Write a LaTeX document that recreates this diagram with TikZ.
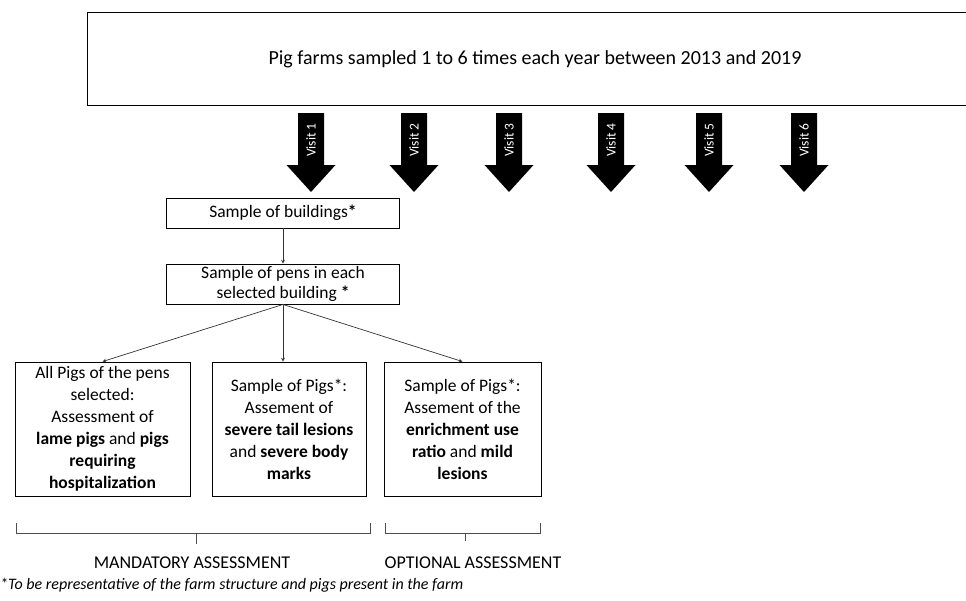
\documentclass[tikz,border=0pt]{standalone}
\usepackage{fontspec}
\setmainfont{Carlito}
\usetikzlibrary{positioning}

\tikzset{
  box/.style={draw, line width=0.9pt, align=center, inner sep=0pt},
  link/.style={->, >=stealth, line width=0.7pt, black!80},
  brace/.style={line width=0.9pt, black!70},
  txt/.style={font=\fontsize{17.5}{22}\selectfont}
}

\begin{document}
\begin{tikzpicture}[x=1pt,y=-1pt]
\useasboundingbox (0,0) rectangle (966,600);
                % farm visits
                \node[box, txt, font=\fontsize{20}{22}\selectfont, minimum width=895, minimum height=93, anchor=north west] (farms) at (87,12) {Pig farms sampled 1 to 6 times each year between 2013 and 2019};
                \foreach \x/\n in {311/1,414/2,509/3,611/4,709/5,804/6}{
                    \fill (\x-13,113) -- (\x+13,113) -- (\x+13,165) -- (\x+24.5,165) -- (\x,192) -- (\x-24.5,165) -- (\x-13,165) -- cycle;
                    \node[rotate=90, text=white, font=\fontsize{13.5}{16}\selectfont] (visit\n) at (\x,140) {Visit \n};
                }
                % sampling
                \node[box, txt, minimum width=233, minimum height=30] (buildings) at (283,213) {Sample of buildings\textbf{*}};
                \node[box, txt, font=\fontsize{17.5}{20}\selectfont, minimum width=233, minimum height=40] (pens) at (283,284) {Sample of pens in each\\selected building \textbf{*}};
                \node[box, txt, minimum width=175, minimum height=134] (allpigs) at (102.5,429) {All Pigs of the pens\\selected:\\Assessment of\\\textbf{lame pigs} and \textbf{pigs}\\\textbf{requiring}\\\textbf{hospitalization}};
                \node[box, txt, minimum width=154, minimum height=134] (tailpigs) at (289,429) {Sample of Pigs*:\\Assement of\\\textbf{severe tail lesions}\\and \textbf{severe body}\\\textbf{marks}};
                \node[box, txt, minimum width=157, minimum height=134] (enrichpigs) at (462.5,429) {Sample of Pigs*:\\Assement of the\\\textbf{enrichment use}\\\textbf{ratio} and \textbf{mild}\\\textbf{lesions}};
                \draw[link] (buildings) -- (pens);
                \draw[link] (pens.south) -- (allpigs.north);
                \draw[link] (pens.south) -- (pens.south |- tailpigs.north);
                \draw[link] (pens.south) -- (enrichpigs.north);
                % assessment groups
                \draw[brace] (16,523) -- (16,533) -- (370,533) -- (370,523);
                \draw[brace] (196,533) -- (196,544);
                \draw[brace] (385,523) -- (385,533) -- (540,533) -- (540,523);
                \draw[brace] (465,533) -- (465,541);
                \node[txt, font=\fontsize{18}{22}\selectfont] (mandatory) at (192,563) {MANDATORY ASSESSMENT};
                \node[txt, font=\fontsize{18}{22}\selectfont] (optional) at (473,563) {OPTIONAL ASSESSMENT};
                \node[font=\fontsize{16}{18}\selectfont\itshape, anchor=west, inner sep=0pt] (note) at (0,585) {*To be representative of the farm structure and pigs present in the farm};
            \end{tikzpicture}
\end{document}
